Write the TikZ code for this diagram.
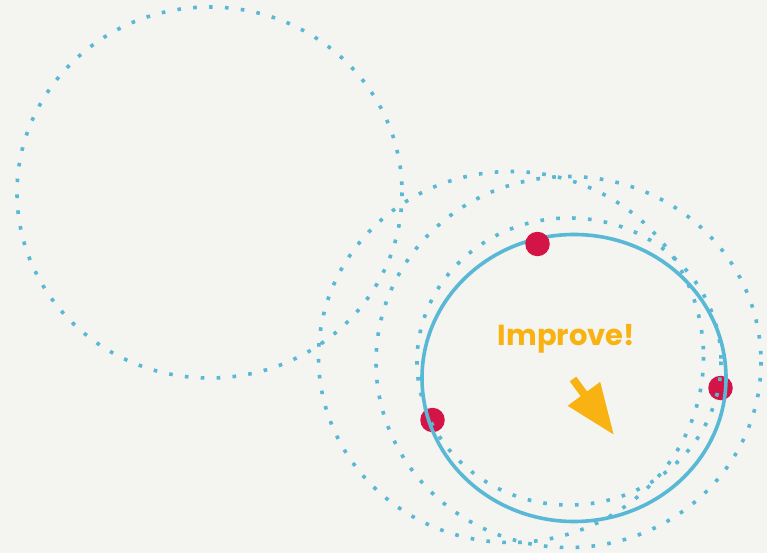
\documentclass[tikz,border=0pt]{standalone}
\usepackage{fontspec}
\newfontfamily\labelfont{Poppins}
\usetikzlibrary{arrows.meta}
\definecolor{bg}{HTML}{F4F4F0}
\definecolor{ringblue}{HTML}{58B8D5}
\definecolor{dotred}{HTML}{D31446}
\definecolor{improveorange}{HTML}{F8B312}
\tikzset{
  dottedring/.style={draw=ringblue, line width=3.6pt, line cap=butt, dash pattern=on 3.6pt off 12.3pt},
  solidring/.style={draw=ringblue, line width=3.6pt},
  sample/.style={circle, fill=dotred, minimum size=24.5pt, inner sep=0pt},
  improvearrow/.style={draw=improveorange, line width=8pt, -{Triangle[length=51pt,width=38pt]}}
}
\begin{document}
\begin{tikzpicture}[x=1pt,y=-1pt]
  \fill[bg] (0,0) rectangle (767,553);
  \useasboundingbox (0,0) rectangle (767,553);
  % samples drawn below the rings
  \node[sample] (s1) at (432.5,420) {};
  \node[sample] (s2) at (720.5,388) {};
  % dotted rings (previous distributions)
  \draw[dottedring] (209.5,192.5) ellipse [x radius=192.5, y radius=185.5];
  \draw[dottedring] (511,357) ellipse [x radius=192.5, y radius=185.5];
  \draw[dottedring] (568.5,362) ellipse [x radius=192.5, y radius=185.5];
  \draw[dottedring] (569,361.5) ellipse [x radius=152, y radius=143.5];
  % current distribution
  \draw[solidring] (574,378) ellipse [x radius=152, y radius=143.5];
  % sample above the ring
  \node[sample] (s3) at (537.5,244) {};
  % label and arrow
  \node[text=improveorange, font=\labelfont\bfseries\fontsize{29}{32}\selectfont, inner sep=0pt, anchor=base] (label) at (566.5,345) {Improve!};
  \coordinate (from) at (573,379);
  \coordinate (to) at (614,435);
  \draw[improvearrow] (from) -- (to);
\end{tikzpicture}
\end{document}
